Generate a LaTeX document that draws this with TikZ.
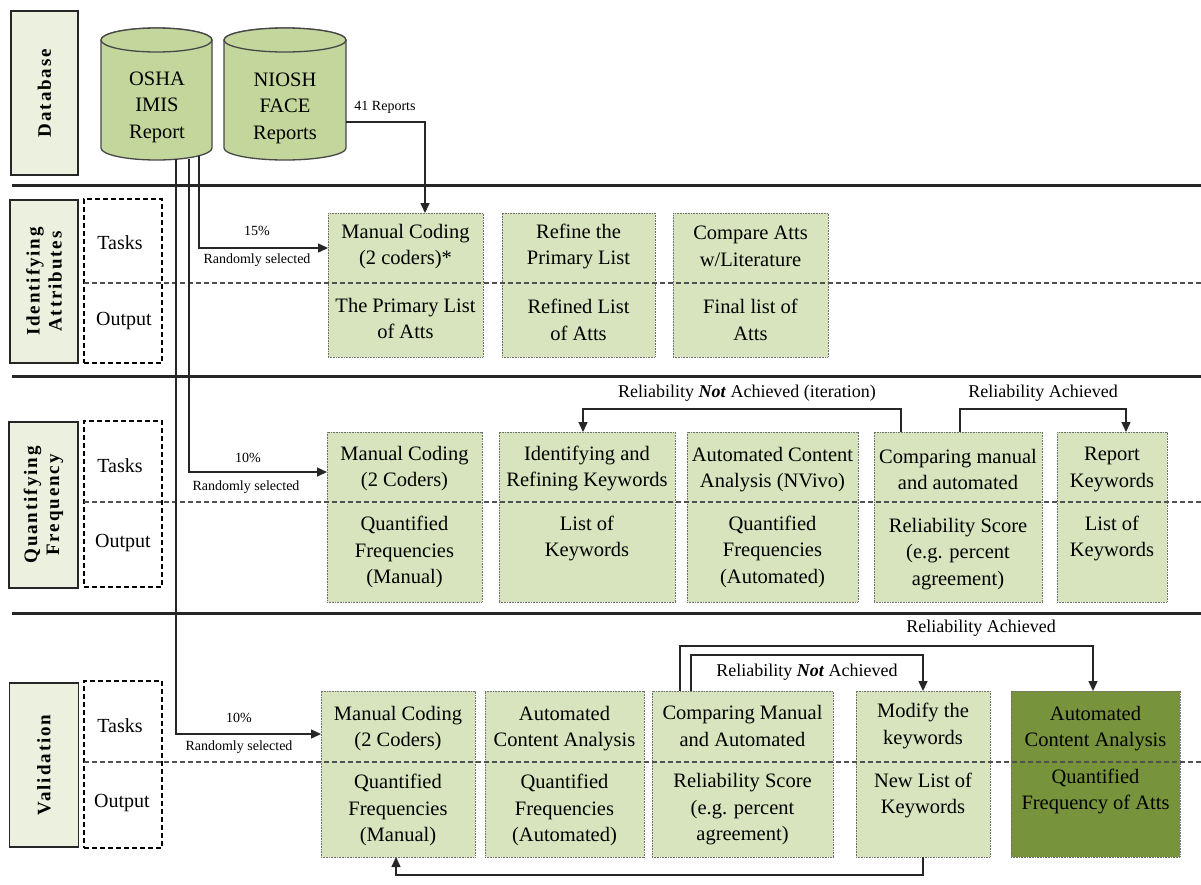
\documentclass[tikz,border=0pt]{standalone}
\usepackage{fontspec}
\setmainfont{Liberation Serif}
\newfontfamily\lanefont[LetterSpace=10]{Liberation Serif}
\usetikzlibrary{arrows.meta}
\definecolor{taskfill}{HTML}{D7E4BD}
\definecolor{labelfill}{HTML}{EBF1DE}
\definecolor{darkfill}{HTML}{77933C}
\definecolor{cylfill}{HTML}{C3D69B}
\definecolor{boxborder}{HTML}{707070}
\definecolor{linecol}{HTML}{262626}
\definecolor{dashcol}{HTML}{505050}
\begin{document}
\begin{tikzpicture}[x=1pt,y=1pt,
  taskbox/.style={draw=boxborder, dash pattern=on 0.8pt off 0.8pt, line width=1pt, fill=taskfill, inner sep=0pt, outer sep=0pt},
  darkbox/.style={taskbox, fill=darkfill},
  lanebox/.style={draw=linecol, line width=1.2pt, fill=labelfill, inner sep=0pt, outer sep=0pt},
  rolebox/.style={draw=black, dash pattern=on 5pt off 3pt, line width=1.2pt, inner sep=0pt, outer sep=0pt},
  lanetext/.style={rotate=90, align=center, font=\fontsize{19}{22}\lanefont\bfseries, inner sep=0pt},
  txt/.style={font=\fontsize{20.5}{26.5}\selectfont, align=center, inner sep=0pt},
  roletext/.style={font=\fontsize{20}{24}\selectfont, inner sep=0pt},
  small/.style={font=\fontsize{14}{16}\selectfont, inner sep=0pt},
  rel/.style={font=\fontsize{18}{20}\selectfont, inner sep=0pt},
  sep/.style={line width=3pt, draw=linecol},
  lanedash/.style={draw=dashcol, dash pattern=on 5pt off 3pt, line width=1.5pt},
  cyl/.style={draw=linecol!85, line width=1.3pt, fill=cylfill},
  arr/.style={line width=1.4pt, draw=linecol, -{Triangle[length=10pt,width=9pt]}},
  anchorbox/.style={inner sep=0pt, outer sep=0pt}
]
\useasboundingbox (0,0) rectangle (1201,-884);
\fill[white] (0,0) rectangle (1201,-884);

% lane separators
\draw[sep] (12,-185) -- (1201,-185);
\draw[sep] (12,-376) -- (1201,-376);
\draw[sep] (12,-613) -- (1201,-613);

% lane label boxes
\node[lanebox, minimum width=67, minimum height=164] (ldb) at (44.5,-93) {};
\node[lanetext] (ldbt) at (ldb.center) {Database};
\node[lanebox, minimum width=68, minimum height=163] (lia) at (44,-281.5) {};
\node[lanetext] (liat) at (lia.center) {Identifying\\Attributes};
\node[lanebox, minimum width=69, minimum height=166] (lqf) at (43.5,-505) {};
\node[lanetext] (lqft) at (lqf.center) {Quantifying\\Frequency};
\node[lanebox, minimum width=69, minimum height=164] (lva) at (44,-765) {};
\node[lanetext] (lvat) at (lva.center) {Validation};

% tasks / output role boxes
\node[rolebox, minimum width=78, minimum height=164] (r2) at (123,-281) {};
\node[rolebox, minimum width=78, minimum height=166] (r3) at (123,-504) {};
\node[rolebox, minimum width=78, minimum height=167] (r4) at (123,-764.5) {};
\node[roletext] (r2t) at (120,-243) {Tasks};
\node[roletext] (r2o) at (124,-321) {Output};
\node[roletext] (r3t) at (120,-466) {Tasks};
\node[roletext] (r3o) at (123,-543) {Output};
\node[roletext] (r4t) at (120,-726) {Tasks};
\node[roletext] (r4o) at (122,-803) {Output};

% cylinders
\filldraw[cyl] (101,-40) -- (101,-148) arc[start angle=180,end angle=360,x radius=55.5pt,y radius=12pt] -- (212,-40) arc[start angle=0,end angle=180,x radius=55.5pt,y radius=12pt] -- cycle;
\draw[cyl] (156.5,-40) ellipse[x radius=55.5pt,y radius=12pt];
\filldraw[cyl] (224,-40) -- (224,-148) arc[start angle=180,end angle=360,x radius=61pt,y radius=12pt] -- (346,-40) arc[start angle=0,end angle=180,x radius=61pt,y radius=12pt] -- cycle;
\draw[cyl] (285,-40) ellipse[x radius=61pt,y radius=12pt];
\node[anchorbox, minimum width=111, minimum height=132] (osha) at (156.5,-94) {};
\node[anchorbox, minimum width=122, minimum height=132] (niosh) at (285,-94) {};
\node[txt] (oshat) at (157,-107) {OSHA\\IMIS\\Report};
\node[txt] (niosht) at (285,-108) {NIOSH\\FACE\\Reports};

% lane 2 boxes
\node[taskbox, minimum width=155, minimum height=144] (a1) at (405.5,-285) {};
\node[taskbox, minimum width=153, minimum height=144] (a2) at (578.5,-285) {};
\node[taskbox, minimum width=155, minimum height=144] (a3) at (750.5,-285) {};

% lane 3 boxes
\node[taskbox, minimum width=155, minimum height=170] (q1) at (404.5,-517) {};
\node[taskbox, minimum width=176, minimum height=170] (q2) at (587,-517) {};
\node[taskbox, minimum width=171, minimum height=170] (q3) at (772.5,-517) {};
\node[taskbox, minimum width=168, minimum height=170] (q4) at (958,-517) {};
\node[taskbox, minimum width=110, minimum height=170] (q5) at (1112,-517) {};

% lane 4 boxes
\node[taskbox, minimum width=154, minimum height=166] (v1) at (398,-774) {};
\node[taskbox, minimum width=159, minimum height=166] (v2) at (564.5,-774) {};
\node[taskbox, minimum width=181, minimum height=166] (v3) at (742.5,-774) {};
\node[taskbox, minimum width=134, minimum height=166] (v4) at (923,-774) {};
\node[darkbox, minimum width=169, minimum height=166] (v5) at (1095.5,-774) {};

% dashed lane dividers
\draw[lanedash] (84,-283) -- (1201,-283);
\draw[lanedash] (84,-502) -- (1201,-502);
\draw[lanedash] (84,-762) -- (1201,-762);

% lane 2 texts
\node[txt] (a1t) at (405.5,-246.5) {Manual Coding\\(2 coders)*};
\node[txt] (a1o) at (405.5,-318.5) {The Primary List\\of Atts};
\node[txt] (a2t) at (578.5,-246.5) {Refine the\\Primary List};
\node[txt] (a2o) at (578.5,-320) {Refined List\\of Atts};
\node[txt] (a3t) at (750.5,-246.5) {Compare Atts\\w/Literature};
\node[txt] (a3o) at (750.5,-320) {Final list of\\Atts};

% lane 3 texts
\node[txt] (q1t) at (404.5,-468.5) {Manual Coding\\(2 Coders)};
\node[txt] (q1o) at (404.5,-552) {Quantified\\Frequencies\\(Manual)};
\node[txt] (q2t) at (587,-468.5) {Identifying and\\Refining Keywords};
\node[txt] (q2o) at (587,-538.5) {List of\\Keywords};
\node[txt] (q3t) at (772.5,-469.5) {Automated Content\\Analysis (NVivo)};
\node[txt] (q3o) at (772.5,-551.5) {Quantified\\Frequencies\\(Automated)};
\node[txt] (q4t) at (958,-469.5) {Comparing manual\\and automated};
\node[txt] (q4o) at (958,-554) {Reliability Score\\(e.g. percent\\agreement)};
\node[txt] (q5t) at (1112,-469.5) {Report\\Keywords};
\node[txt] (q5o) at (1112,-538.5) {List of\\Keywords};

% lane 4 texts
\node[txt] (v1t) at (398,-728.5) {Manual Coding\\(2 Coders)};
\node[txt] (v1o) at (398,-810) {Quantified\\Frequencies\\(Manual)};
\node[txt] (v2t) at (564.5,-728.5) {Automated\\Content Analysis};
\node[txt] (v2o) at (564.5,-810) {Quantified\\Frequencies\\(Automated)};
\node[txt] (v3t) at (742.5,-726) {Comparing Manual\\and Automated};
\node[txt] (v3o) at (742.5,-809.5) {Reliability Score\\(e.g. percent\\agreement)};
\node[txt] (v4t) at (923,-726) {Modify the\\keywords};
\node[txt] (v4o) at (923,-795.5) {New List of\\Keywords};
\node[txt] (v5t) at (1095.5,-728.5) {Automated\\Content Analysis};
\node[txt] (v5o) at (1095.5,-791.5) {Quantified\\Frequency of Atts};

% connectors from databases
\draw[arr] ([yshift=-28pt]niosh.east) -| ([xshift=19.5pt]a1.north);
\node[small] (l41) at (385,-107) {41 Reports};
\draw[arr] ([xshift=42.5pt,yshift=4pt]osha.south) |- ([yshift=37pt]a1.west);
\draw[arr] ([xshift=32.5pt,yshift=1pt]osha.south) |- ([yshift=45pt]q1.west);
\draw[arr] ([xshift=19.5pt,yshift=1pt]osha.south) |- ([yshift=40pt]v1.west);
\node[small] (p15) at (257,-231) {15\%};
\node[small] (rs1) at (257,-260) {Randomly selected};
\node[small] (p10a) at (248,-458) {10\%};
\node[small] (rs2) at (246,-487) {Randomly selected};
\node[small] (p10b) at (239,-718) {10\%};
\node[small] (rs3) at (239,-747) {Randomly selected};

% lane 3 loops
\draw[arr] ([xshift=-57pt]q4.north) -- ++(0,23) -| ([xshift=-4pt]q2.north);
\draw[arr] ([xshift=2pt]q4.north) -- ++(0,23) -| ([xshift=14pt]q5.north);
\node[rel] (lnot3) at (747,-393) {Reliability \textbf{\textit{Not}} Achieved (iteration)};
\node[rel] (lach3) at (1043,-393) {Reliability Achieved};

% lane 4 loops
\draw[arr] ([xshift=-62.5pt]v3.north) -- ++(0,45) -| ([xshift=-2.5pt]v5.north);
\draw[arr] ([xshift=-51.5pt]v3.north) -- ++(0,36) -| (v4.north);
\draw[arr] (v4.south) -- ++(0,-18) -| ([xshift=-2pt]v1.south);
\node[rel] (lach4) at (981,-628) {Reliability Achieved};
\node[rel] (lnot4) at (807,-672) {Reliability \textbf{\textit{Not}} Achieved};
\end{tikzpicture}
\end{document}
